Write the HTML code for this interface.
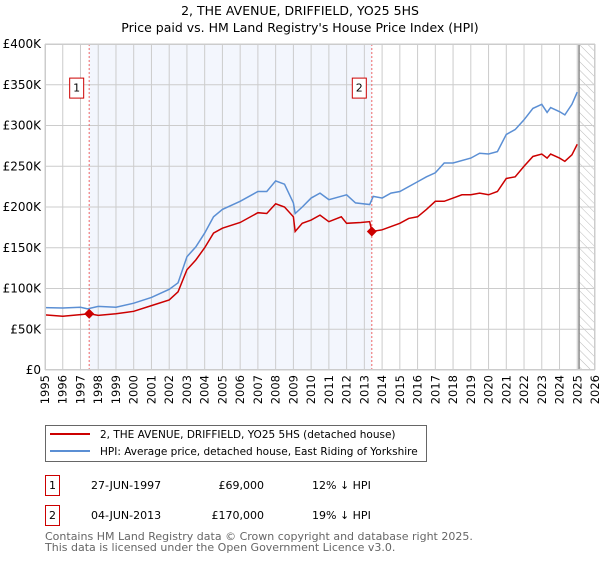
<!DOCTYPE html>
<html><head><meta charset="utf-8"><style>
body{margin:0;background:#fff;font-family:"DejaVu Sans","Liberation Sans",sans-serif;}
svg text{font-family:"DejaVu Sans","Liberation Sans",sans-serif;}
</style></head><body>
<svg id="c" width="600" height="560" xmlns="http://www.w3.org/2000/svg">
<defs><pattern id="hatch" width="6" height="6" patternUnits="userSpaceOnUse" patternTransform="rotate(-45)"><line x1="0" y1="0" x2="0" y2="6" stroke="#bbb" stroke-width="1"/></pattern></defs>
<text x="300" y="15" text-anchor="middle" font-size="12.5">2, THE AVENUE, DRIFFIELD, YO25 5HS</text>
<text x="300" y="32" text-anchor="middle" font-size="12.5">Price paid vs. HM Land Registry's House Price Index (HPI)</text>
<g id="plot"></g>
<rect x="45.5" y="425.5" width="381" height="36" fill="#fff" stroke="#666"/>
<line x1="50" y1="434" x2="90" y2="434" stroke="#cc0000" stroke-width="2"/>
<text x="100" y="438" font-size="10.5">2, THE AVENUE, DRIFFIELD, YO25 5HS (detached house)</text>
<line x1="50" y1="451" x2="90" y2="451" stroke="#5b8fd4" stroke-width="2"/>
<text x="100" y="455" font-size="10.5">HPI: Average price, detached house, East Riding of Yorkshire</text>
<rect x="45.5" y="475.5" width="14" height="20" fill="none" stroke="#cc0000"/>
<text x="52.5" y="489" text-anchor="middle" font-size="11">1</text>
<text x="91" y="489" font-size="11">27-JUN-1997</text>
<text x="264" y="489" font-size="11" text-anchor="end">£69,000</text>
<text x="312" y="489" font-size="11">12% ↓ HPI</text>
<rect x="45.5" y="505.5" width="14" height="20" fill="none" stroke="#cc0000"/>
<text x="52.5" y="519" text-anchor="middle" font-size="11">2</text>
<text x="91" y="519" font-size="11">04-JUN-2013</text>
<text x="264" y="519" font-size="11" text-anchor="end">£170,000</text>
<text x="312" y="519" font-size="11">19% ↓ HPI</text>
<text x="45" y="540" font-size="11" fill="#666">Contains HM Land Registry data © Crown copyright and database right 2025.</text>
<text x="45" y="551" font-size="11" fill="#666">This data is licensed under the Open Government Licence v3.0.</text>
</svg>
<script>
const yTicks=[0,50000,100000,150000,200000,250000,300000,350000,400000];
const yTickLabels=["£0","£50K","£100K","£150K","£200K","£250K","£300K","£350K","£400K"];
const xTicks=[1995,1996,1997,1998,1999,2000,2001,2002,2003,2004,2005,2006,2007,2008,2009,2010,2011,2012,2013,2014,2015,2016,2017,2018,2019,2020,2021,2022,2023,2024,2025,2026];
const hpiYears=[1995,1996,1997,1997.4,1998,1999,2000,2001,2002,2002.5,2003,2003.5,2004,2004.5,2005,2006,2007,2007.5,2008,2008.5,2009,2009.1,2009.5,2010,2010.5,2011,2012,2012.5,2013.3,2013.5,2014,2014.5,2015,2016,2016.5,2017,2017.5,2018,2019,2019.5,2020,2020.5,2021,2021.5,2022,2022.5,2023,2023.3,2023.5,2024,2024.3,2024.7,2025];
const hpiValues=[76500,76000,77000,75000,78000,77000,82000,89000,99000,107000,139000,151000,168000,188000,197000,207000,219000,219000,232000,228000,205000,192000,200000,211000,217000,209000,215000,205000,203000,213000,211000,217000,219000,231000,237000,242000,254000,254000,260000,266000,265000,268000,289000,295000,307000,321000,326000,316000,322000,317000,313000,326000,341000];
const propYears=[1995,1996,1997,1997.5,1998,1999,2000,2001,2002,2002.5,2003,2003.5,2004,2004.5,2005,2006,2007,2007.5,2008,2008.5,2009,2009.1,2009.5,2010,2010.5,2011,2011.7,2012,2012.8,2013.3,2013.42,2014,2014.5,2015,2015.5,2016,2016.5,2017,2017.5,2018,2018.5,2019,2019.5,2020,2020.5,2021,2021.5,2022,2022.5,2023,2023.3,2023.5,2024,2024.3,2024.7,2025];
const propValues=[67600,66000,68000,69000,67000,69000,72000,79000,86000,96000,123000,135000,150000,168000,174000,181000,193000,192000,204000,200000,188000,170000,180000,184000,190000,182000,188000,180000,181000,182000,170000,172000,176000,180000,186000,188000,197000,207000,207000,211000,215000,215000,217000,215000,219000,235000,237000,250000,262000,265000,260000,265000,260000,256000,264000,277000];
const saleYears=[1997.49,2013.42];
const saleValues=[69000,170000];
const saleLabels=["1","2"];
const X0=45,X1=595,Y0=370,Y1=44,xMin=1995,xMax=2026,yMax=400000;
const sx=v=>X0+(v-xMin)/(xMax-xMin)*(X1-X0);
const sy=v=>Y0-v/yMax*(Y0-Y1);
const NS="http://www.w3.org/2000/svg";
const g=document.getElementById('plot');
function mk(t,a,p){const e=document.createElementNS(NS,t);for(const k in a)e.setAttribute(k,a[k]);(p||g).appendChild(e);return e;}
let e;
e=mk('rect',{x:sx(saleYears[0]),y:Y1,width:sx(saleYears[1])-sx(saleYears[0]),height:Y0-Y1,fill:'#f3f6fd'});


e=mk('rect',{x:sx(2025.1),y:Y1,width:X1-sx(2025.1),height:Y0-Y1,fill:'url(#hatch)'});


xTicks.forEach(t=>{e=mk('line',{x1:sx(t),y1:Y1,x2:sx(t),y2:Y0,stroke:'#ccc'});


e=mk('text',{x:0,y:0,'font-size':11.5,'text-anchor':'end',transform:`translate(${sx(t)+4},${Y0+5}) rotate(-90)`});
e.textContent=t;

});
yTicks.forEach((t,i)=>{e=mk('line',{x1:X0,y1:sy(t),x2:X1,y2:sy(t),stroke:'#ccc'});


e=mk('text',{x:X0-4,y:sy(t)+4,'font-size':12,'text-anchor':'end'});
e.textContent=yTickLabels[i];

});
e=mk('line',{x1:sx(2025.1),y1:Y1,x2:sx(2025.1),y2:Y0,stroke:'#888','stroke-width':1.5});


saleYears.forEach((yr,i)=>{e=mk('line',{x1:sx(yr),y1:Y1,x2:sx(yr),y2:Y0,stroke:'#e66','stroke-dasharray':'2,2'});


e=mk('rect',{x:sx(yr)-19.5,y:sy(360000)+1.5,width:14,height:20,fill:'#fff',stroke:'#cc0000'});


e=mk('text',{x:sx(yr)-12.5,y:sy(360000)+15,'font-size':11,'text-anchor':'middle'});
e.textContent=saleLabels[i];

});
e=mk('polyline',{points:hpiYears.map((y,i)=>sx(y)+','+sy(hpiValues[i])).join(' '),fill:'none',stroke:'#5b8fd4','stroke-width':1.5});


e=mk('polyline',{points:propYears.map((y,i)=>sx(y)+','+sy(propValues[i])).join(' '),fill:'none',stroke:'#cc0000','stroke-width':1.5});


saleYears.forEach((yr,i)=>{const cx=sx(yr),cy=sy(saleValues[i]);
e=mk('polygon',{points:`${cx},${cy-5} ${cx+5},${cy} ${cx},${cy+5} ${cx-5},${cy}`,fill:'#cc0000'});

});
e=mk('rect',{x:X0+.5,y:Y1+.5,width:X1-X0-1,height:Y0-Y1-1,fill:'none',stroke:'#ccc'});


</script>
</body></html>
